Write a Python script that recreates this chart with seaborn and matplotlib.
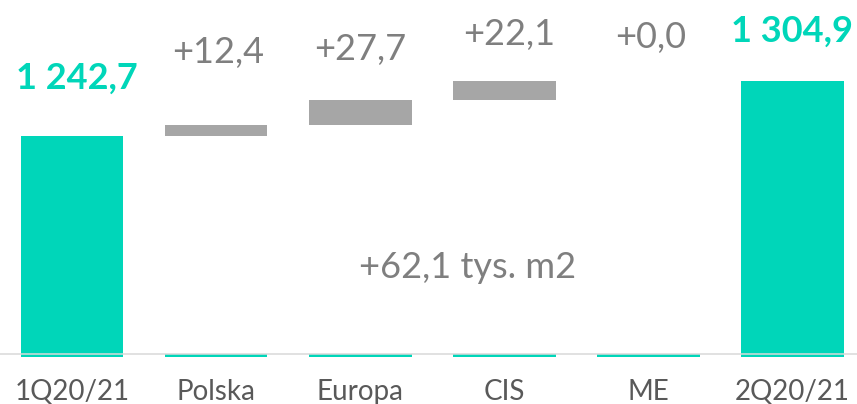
import matplotlib
matplotlib.use("Agg")
import matplotlib.pyplot as plt
import matplotlib.transforms as mtransforms
import numpy as np
import pandas as pd
import seaborn as sns

# --- data -------------------------------------------------------------
categories = ["1Q20/21", "Polska", "Europa", "CIS", "ME", "2Q20/21"]
start_total = 1242.7
changes = [12.4, 27.7, 22.1, 0.0]
end_total = 1304.9
value_labels = ["1 242,7", "+12,4", "+27,7", "+22,1", "+0,0", "1 304,9"]
summary_label = "+62,1 tys. m2"

# --- style ------------------------------------------------------------
TEAL = "#00D6B9"
GREY_BAR = "#A6A6A6"
GREY_TEXT = "#7F7F7F"
TICK_TEXT = "#595959"
AXIS_LINE = "#D9D9D9"
BAR_WIDTH = 0.715
FLOOR = 994.6          # bars start slightly below the axis line
Y_MIN, Y_MAX = 997.5, 1395.7

sns.set_theme(style="white")
plt.rcParams["font.family"] = ["Lato", "DejaVu Sans"]

# waterfall geometry
cum = np.concatenate([[start_total], start_total + np.cumsum(changes)])
change_bottoms = cum[:-1]
change_heights = np.array(changes)

totals_df = pd.DataFrame({"category": [categories[0], categories[-1]],
                          "height": [start_total - FLOOR, end_total - FLOOR]})
changes_df = pd.DataFrame({"category": categories[1:-1], "height": change_heights})

fig = plt.figure(figsize=(8.57, 4.04), dpi=100)
ax = fig.add_axes([0, 50 / 404, 1, 354 / 404])

sns.barplot(data=totals_df, x="category", y="height", order=categories,
            bottom=FLOOR, color=TEAL, saturation=1, width=BAR_WIDTH,
            linewidth=0, clip_on=False, ax=ax)
sns.barplot(data=changes_df, x="category", y="height", order=categories,
            bottom=change_bottoms, color=GREY_BAR, saturation=1,
            width=BAR_WIDTH, linewidth=0, ax=ax)

# thin teal stubs at the foot of the intermediate columns
ax.bar(range(1, len(categories) - 1), 2.4, bottom=FLOOR, width=BAR_WIDTH,
       color=TEAL, linewidth=0, clip_on=False, zorder=1)

ax.set_xlim(-0.5, 5.451)
ax.set_ylim(Y_MIN, Y_MAX)
ax.set_xlabel("")
ax.set_ylabel("")
ax.set_yticks([])
ax.set_xticks(range(len(categories)))
ax.set_xticklabels(categories, fontsize=20, color=TICK_TEXT)
ax.tick_params(axis="x", length=0, pad=18)
for side in ["left", "right", "top"]:
    ax.spines[side].set_visible(False)
ax.spines["bottom"].set_color(AXIS_LINE)
ax.spines["bottom"].set_linewidth(1.1)
ax.spines["bottom"].set_zorder(5)

# value labels above each column
tops = [start_total] + list(cum[1:]) + [end_total]
label_offsets_px = [(5, 47), (2, 62), (0, 40), (5, 36), (3, 33), (0, 39)]
for i, (txt, top, (dx, dy)) in enumerate(zip(value_labels, tops, label_offsets_px)):
    is_total = i in (0, len(categories) - 1)
    ax.annotate(txt, xy=(i, top), xytext=(dx * 0.72, dy * 0.72),
                textcoords="offset points", ha="center", va="baseline",
                fontsize=26, fontweight="bold" if is_total else "normal",
                color=TEAL if is_total else GREY_TEXT, annotation_clip=False)

trans = mtransforms.blended_transform_factory(ax.transData, ax.transAxes)
ax.text(2.75, 0.215, summary_label, transform=trans, ha="center",
        va="baseline", fontsize=26, color=GREY_TEXT)

fig.savefig("out.png", dpi=100, facecolor="white")
